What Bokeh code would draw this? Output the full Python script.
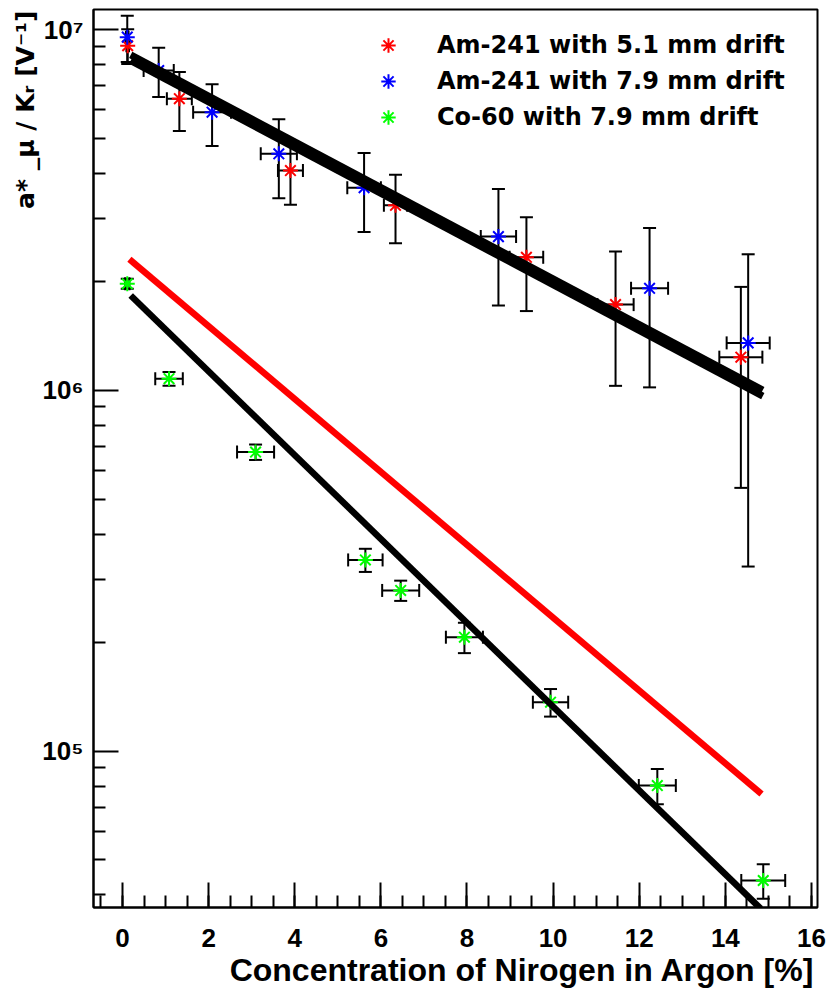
import math
from bokeh.plotting import figure
from bokeh.models import (ColumnDataSource, Whisker, TeeHead, FixedTicker, SingleIntervalTicker,
                          Legend, LegendItem, Title, Range1d)
from bokeh.embed import file_html
from bokeh.resources import INLINE

# ---------------- data ----------------
am51_x = [0.12, 1.32, 3.90, 6.34, 9.38, 11.45, 14.36]
am51_y = [9.03e6, 6.44e6, 4.07e6, 3.26e6, 2.34e6, 1.73e6, 1.237e6]
am51_xerr = [0.03, 0.29, 0.29, 0.27, 0.39, 0.42, 0.50]
am51_yerr = [1.0e6, 1.2e6, 0.8e6, 0.7e6, 0.68e6, 0.70e6, 0.70e6]

am79_x = [0.11, 0.84, 2.08, 3.63, 5.61, 8.73, 12.24, 14.53]
am79_y = [9.54e6, 7.71e6, 5.91e6, 4.53e6, 3.65e6, 2.67e6, 1.92e6, 1.355e6]
am79_xerr = [0.03, 0.35, 0.44, 0.42, 0.39, 0.41, 0.43, 0.50]
am79_yerr = [1.4e6, 1.2e6, 1.15e6, 1.12e6, 0.9e6, 0.95e6, 0.9e6, 1.03e6]

co60_x = [0.11, 1.08, 3.09, 5.64, 6.46, 7.94, 9.94, 12.42, 14.88]
co60_y = [1.976e6, 1.078e6, 6.75e5, 3.39e5, 2.79e5, 2.07e5, 1.367e5, 8.03e4, 4.38e4]
co60_xerr = [0.05, 0.32, 0.43, 0.40, 0.43, 0.43, 0.41, 0.43, 0.51]
co60_yerr = [6.3e4, 4.7e4, 3.3e4, 2.5e4, 1.8e4, 2.0e4, 1.2e4, 9.0e3, 4.8e3]

# fitted / expected curves (straight lines on the log axis: end points)
fit_am_x = [0.19, 14.87]
fit_am_a_y = [8.52e6, 1.0025e6]
fit_am_b_y = [8.21e6, 9.65e5]
fit_exp_x = [0.16, 14.84]
fit_exp_y = [2.312e6, 7.61e4]
fit_co_x = [0.19, 14.82]
fit_co_y = [1.834e6, 3.66e4]

labels = ["Am-241 with 5.1 mm drift", "Am-241 with 7.9 mm drift", "Co-60 with 7.9 mm drift"]
x_title = "Concentration of Nirogen in Argon [%]"
y_title = "a* _\u03bc / K\u1d63 [V\u207b\u00b9]"
decades = [5, 6, 7]
decade_labels = ["10\u2075", "10\u2076", "10\u2077"]

# ---------------- figure ----------------
X0, X1 = -0.674, 16.14
Y0, Y1 = 3.687e4, 1.138e7
FL, FR, FT, FB = 93, 817, 9, 907   # frame edges in canvas pixels

p = figure(width=828, height=994, y_axis_type="log",
           x_range=Range1d(X0, X1), y_range=Range1d(Y0, Y1),
           output_backend="svg", toolbar_location=None,
           min_border_left=FL, min_border_right=828 - FR, min_border_top=FT,
           min_border_bottom=994 - FB)
p.xgrid.visible = False
p.ygrid.visible = False
p.outline_line_color = "black"
p.outline_line_width = 2
p.background_fill_color = "white"
p.border_fill_color = "white"

TICK_FONT = "Liberation Sans"
for ax in (p.xaxis[0], p.yaxis[0]):
    ax.axis_line_width = 2
    ax.major_tick_line_width = 2
    ax.minor_tick_line_width = 2
    ax.major_tick_in = 25
    ax.major_tick_out = 0
    ax.minor_tick_in = 12
    ax.minor_tick_out = 0
    ax.major_label_text_font = TICK_FONT
    ax.major_label_text_font_style = "bold"
    ax.major_label_text_font_size = "26px"
    ax.major_label_text_color = "black"

p.xaxis.ticker = SingleIntervalTicker(interval=2, num_minor_ticks=4)
p.xaxis.major_label_standoff = 21

minor = [m * 10 ** d for d in (4, 5, 6) for m in range(2, 10) if m * 10 ** d > Y0]
p.yaxis.ticker = FixedTicker(ticks=[10 ** d for d in decades], minor_ticks=minor)
p.yaxis.major_label_overrides = {10 ** d: t for d, t in zip(decades, decade_labels)}
p.yaxis.major_label_standoff = 10

def sources(xs, ys, xe, ye):
    return ColumnDataSource(dict(
        x=xs, y=ys,
        xl=[a - b for a, b in zip(xs, xe)], xu=[a + b for a, b in zip(xs, xe)],
        yl=[a - b for a, b in zip(ys, ye)], yu=[a + b for a, b in zip(ys, ye)]))

series = [
    (am51_x, am51_y, am51_xerr, am51_yerr, "#ff0000"),
    (am79_x, am79_y, am79_xerr, am79_yerr, "#0000ff"),
    (co60_x, co60_y, co60_xerr, co60_yerr, "#00ff00"),
]
renderers = []
for xs, ys, xe, ye, col in series:
    src = sources(xs, ys, xe, ye)
    for dim, base, lo, hi in (("height", "x", "yl", "yu"), ("width", "y", "xl", "xu")):
        w = Whisker(source=src, base=base, lower=lo, upper=hi, dimension=dim,
                    line_color="black", line_width=2, level="underlay",
                    upper_head=TeeHead(size=13, line_color="black", line_width=2),
                    lower_head=TeeHead(size=13, line_color="black", line_width=2))
        p.add_layout(w)
    r = p.scatter("x", "y", source=src, marker="asterisk", size=15,
                  line_color=col, line_width=2)
    renderers.append(r)

# curves on top
p.line(fit_exp_x, fit_exp_y, line_color="#ff0000", line_width=6.5)
p.line(fit_co_x, fit_co_y, line_color="black", line_width=6.5)
p.line(fit_am_x, fit_am_a_y, line_color="black", line_width=7)
p.line(fit_am_x, fit_am_b_y, line_color="black", line_width=7)

legend = Legend(items=[LegendItem(label=l, renderers=[r]) for l, r in zip(labels, renderers)],
                location=(277, 772), glyph_width=36, glyph_height=36, label_height=36,
                label_standoff=31, padding=0, margin=0, spacing=0,
                border_line_alpha=0, background_fill_alpha=0,
                label_text_font="DejaVu Sans", label_text_font_style="bold",
                label_text_font_size="24px", label_text_color="black")
p.add_layout(legend)

p.add_layout(Title(text=x_title, align="right", offset=3, standoff=0,
                   text_font=TICK_FONT, text_font_style="bold", text_font_size="32px",
                   text_color="black"), "below")
p.add_layout(Title(text=y_title, align="right", offset=1, standoff=0,
                   text_font="DejaVu Sans", text_font_style="bold", text_font_size="25px",
                   text_color="black"), "left")

open("out.html", "w").write(file_html(p, INLINE))
